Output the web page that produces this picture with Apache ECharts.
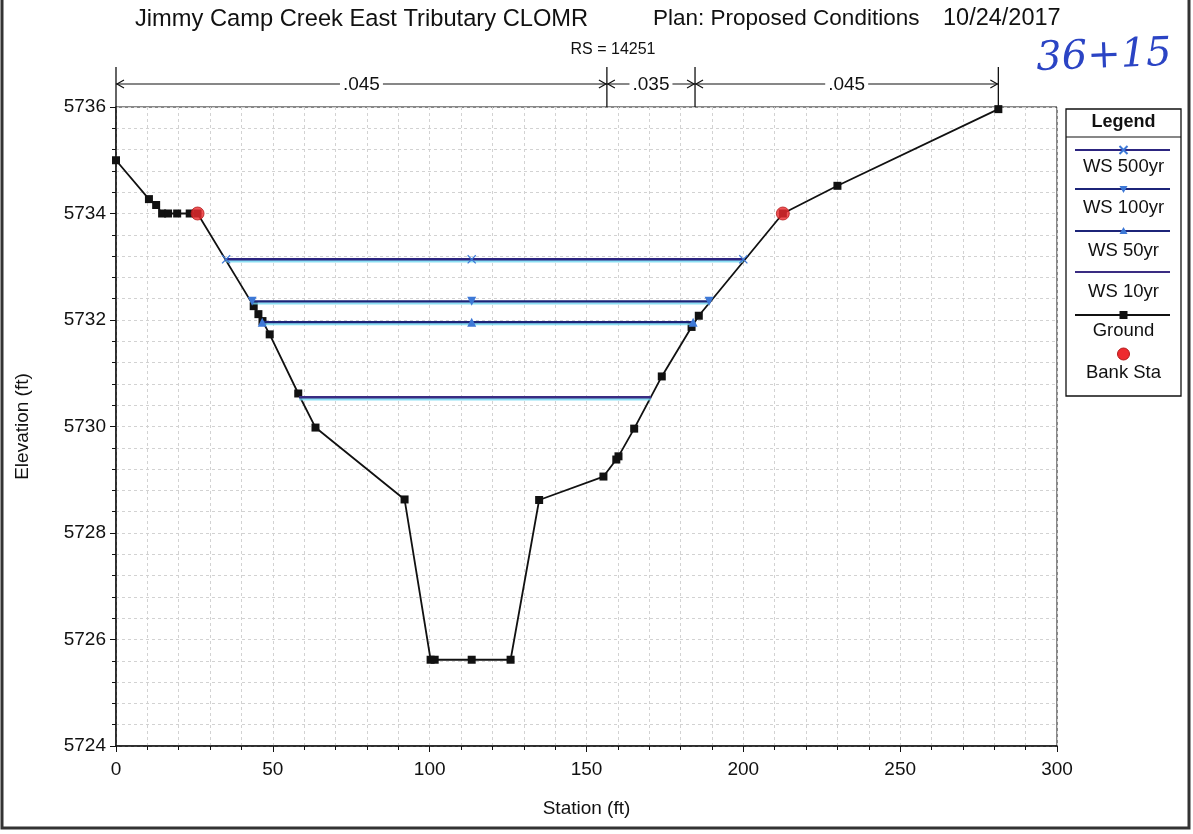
<!DOCTYPE html>
<html><head><meta charset="utf-8">
<script src="https://cdn.jsdelivr.net/npm/echarts@6/dist/echarts.min.js"></script>
<style>html,body{margin:0;padding:0;background:#fff}#c{width:1193px;height:834px}</style>
</head><body><div id="c"></div>
<script>
// ---- data ----
const groundStation = [0, 10.5, 12.8, 14.7, 16.6, 19.5, 23.5, 26.0, 43.9, 45.4, 46.7, 49.0, 58.1, 63.6, 92.0, 100.3, 101.6, 113.4, 125.8, 134.9, 155.4, 159.5, 160.2, 165.2, 174.0, 183.5, 185.8, 212.6, 230.0, 281.3];
const groundElev    = [5735.0, 5734.27, 5734.16, 5734.0, 5734.0, 5734.0, 5734.0, 5734.0, 5732.26, 5732.11, 5731.98, 5731.73, 5730.62, 5729.98, 5728.63, 5725.62, 5725.62, 5725.62, 5725.62, 5728.62, 5729.06, 5729.38, 5729.44, 5729.96, 5730.94, 5731.87, 5732.08, 5734.0, 5734.52, 5735.96];
const bankStation = [26.0, 212.6];
const bankElev    = [5734.0, 5734.0];
const wsNames  = ['WS 500yr', 'WS 100yr', 'WS 50yr', 'WS 10yr'];
const wsElev   = [5733.14, 5732.35, 5731.96, 5730.55];
const wsLeft   = [35.1, 43.4, 46.6, 58.4];
const wsRight  = [200.0, 189.1, 184.0, 170.6];
const wsMarkStation = 113.4;
const nBreaks = [0, 156.5, 184.6, 281.3];
const nValues = ['.045', '.035', '.045'];
const xMin = 0, xMax = 300, xStep = 50;
const yMin = 5724, yMax = 5736, yStep = 2;

// ---- styling ----
const FONT = "'Liberation Sans', Arial, sans-serif";
const wsLine = ['#2c2580', '#1c2478', '#1c2478', '#3a2c82'];
const wsMarkColor = '#3d78d6';
const xPath = 'path://M1,0 L5,4 L9,0 L10,1 L6,5 L10,9 L9,10 L5,6 L1,10 L0,9 L4,5 L0,1 Z';
const wsSymbol = [xPath, 'triangle', 'triangle', 'none'];
const wsRotate = [0, 180, 0, 0];

const chart = echarts.init(document.getElementById('c'), null, {renderer: 'canvas'});

const gridLine = {show: true, lineStyle: {color: '#d2d2d2', type: [3, 3], width: 1}};
const series = [];
series.push({
  name: 'Ground', type: 'line', z: 3,
  data: groundStation.map((s, i) => [s, groundElev[i]]),
  symbol: 'rect', symbolSize: 8, showAllSymbol: true,
  itemStyle: {color: '#111'}, lineStyle: {color: '#111', width: 1.8}
});
wsNames.forEach((n, i) => {
  series.push({
    name: n, type: 'line', z: 4,
    data: [[wsLeft[i], wsElev[i]], [wsMarkStation, wsElev[i]], [wsRight[i], wsElev[i]]],
    symbol: wsSymbol[i], symbolSize: 9, symbolRotate: wsRotate[i], showAllSymbol: true,
    itemStyle: {color: wsMarkColor},
    lineStyle: {color: wsLine[i], width: 2.4, shadowColor: 'rgba(110,215,240,0.8)', shadowOffsetY: 2, shadowBlur: 0}
  });
});
series.push({
  name: 'Bank Sta', type: 'scatter', z: 5,
  data: bankStation.map((s, i) => [s, bankElev[i]]),
  symbol: 'circle', symbolSize: 13,
  itemStyle: {color: '#ee2a2e', borderColor: '#b31a1a', borderWidth: 1}
});

chart.setOption({
  animation: false,
  backgroundColor: '#fff',
  grid: {left: 116, right: 136, top: 107, bottom: 88, show: true, borderColor: '#111', borderWidth: 1},
  xAxis: {
    type: 'value', min: xMin, max: xMax, interval: xStep,
    name: 'Station (ft)', nameLocation: 'middle', nameGap: 53,
    nameTextStyle: {fontFamily: FONT, fontSize: 19, color: '#111'},
    axisLine: {lineStyle: {color: '#111', width: 1.5}},
    axisTick: {show: true, inside: false, length: 6, lineStyle: {color: '#111'}},
    minorTick: {show: true, splitNumber: 5, length: 4, lineStyle: {color: '#111'}},
    axisLabel: {fontFamily: FONT, fontSize: 19, color: '#111', margin: 14},
    splitLine: gridLine,
    minorSplitLine: gridLine
  },
  yAxis: {
    type: 'value', min: yMin, max: yMax, interval: yStep,
    name: 'Elevation (ft)', nameLocation: 'middle', nameGap: 84,
    nameTextStyle: {fontFamily: FONT, fontSize: 19, color: '#111'},
    axisLine: {show: true, lineStyle: {color: '#111', width: 1.5}},
    axisTick: {show: true, inside: false, length: 6, lineStyle: {color: '#111'}},
    minorTick: {show: true, splitNumber: 5, length: 4, lineStyle: {color: '#111'}},
    axisLabel: {fontFamily: FONT, fontSize: 19, color: '#111', margin: 10, formatter: v => String(v)},
    splitLine: gridLine,
    minorSplitLine: gridLine
  },
  series: series
});

// ---- graphics: titles, Manning's n annotation, legend, border ----
const g = [];
const tStyle = (txt, x, y, size, extra) => ({type: 'text', x: x, y: y, z: 10, style: Object.assign({text: txt, fontFamily: FONT, fontSize: size, fill: '#111', textAlign: 'left', textVerticalAlign: 'middle'}, extra || {})});
g.push(tStyle('Jimmy Camp Creek East Tributary CLOMR', 135, 19, 23.7));
g.push(tStyle('Plan: Proposed Conditions', 653, 19, 22.5));
g.push(tStyle('10/24/2017', 943, 19, 23.5));
g.push(tStyle('RS = 14251', 613, 50, 16, {textAlign: 'center'}));
g.push({type: 'text', x: 1104, y: 57, rotation: 0.04, style: {text: '36+15', fontFamily: "'DejaVu Serif', serif", fontStyle: 'italic', fontSize: 40, fill: '#2b44c4', textAlign: 'center', textVerticalAlign: 'middle'}});

// Manning n
const px = v => chart.convertToPixel({xAxisIndex: 0}, v);
const yTopPx = chart.convertToPixel({yAxisIndex: 0}, yMax);
const yN = 84;
nBreaks.forEach(b => {
  const x = px(b);
  g.push({type: 'line', shape: {x1: x, y1: 67, x2: x, y2: yTopPx}, style: {stroke: '#111', lineWidth: 1.3}});
});
for (let i = 0; i < nValues.length; i++) {
  const x1 = px(nBreaks[i]), x2 = px(nBreaks[i + 1]);
  g.push({type: 'line', shape: {x1: x1, y1: yN, x2: x2, y2: yN}, style: {stroke: '#111', lineWidth: 1.2}});
  g.push({type: 'polyline', shape: {points: [[x1 + 8, yN - 4], [x1 + 1, yN], [x1 + 8, yN + 4]]}, style: {stroke: '#111', lineWidth: 1.2, fill: null}});
  g.push({type: 'polyline', shape: {points: [[x2 - 8, yN - 4], [x2 - 1, yN], [x2 - 8, yN + 4]]}, style: {stroke: '#111', lineWidth: 1.2, fill: null}});
  g.push({type: 'text', x: (x1 + x2) / 2, y: yN + 1, z: 10, style: {text: nValues[i], fontFamily: FONT, fontSize: 19, fill: '#111', textAlign: 'center', textVerticalAlign: 'middle', backgroundColor: '#fff', padding: [0, 3]}});
}

// Legend
const LX = 1066, LW = 115, LT = 109, LB = 396, LC = LX + LW / 2;
g.push({type: 'rect', shape: {x: LX, y: LT, width: LW, height: LB - LT}, style: {stroke: '#111', lineWidth: 1.3, fill: '#fff'}});
g.push({type: 'line', shape: {x1: LX, y1: 137, x2: LX + LW, y2: 137}, style: {stroke: '#111', lineWidth: 1.2}});
g.push(tStyle('Legend', LC, 122, 18, {textAlign: 'center', fontWeight: 'bold'}));
const legLineY = [150, 189, 231, 272];
const legTextY = [167, 208, 251, 292];
wsNames.forEach((n, i) => {
  g.push({type: 'line', shape: {x1: LX + 9, y1: legLineY[i], x2: LX + LW - 11, y2: legLineY[i]}, style: {stroke: wsLine[i], lineWidth: 2}});
  g.push(tStyle(n, LC, legTextY[i], 18.5, {textAlign: 'center'}));
});
g.push({type: 'polyline', shape: {points: [[LC - 4, 146], [LC + 4, 154]]}, style: {stroke: wsMarkColor, lineWidth: 2}});
g.push({type: 'polyline', shape: {points: [[LC + 4, 146], [LC - 4, 154]]}, style: {stroke: wsMarkColor, lineWidth: 2}});
g.push({type: 'polygon', shape: {points: [[LC - 4, 186], [LC + 4, 186], [LC, 193]]}, style: {fill: wsMarkColor}});
g.push({type: 'polygon', shape: {points: [[LC - 4, 234], [LC + 4, 234], [LC, 227]]}, style: {fill: wsMarkColor}});
g.push({type: 'line', shape: {x1: LX + 9, y1: 315, x2: LX + LW - 11, y2: 315}, style: {stroke: '#111', lineWidth: 1.8}});
g.push({type: 'rect', shape: {x: LC - 4, y: 311, width: 8, height: 8}, style: {fill: '#111'}});
g.push(tStyle('Ground', LC, 331, 18.5, {textAlign: 'center'}));
g.push({type: 'circle', shape: {cx: LC, cy: 354, r: 6}, style: {fill: '#ee2a2e', stroke: '#b31a1a', lineWidth: 1}});
g.push(tStyle('Bank Sta', LC, 373, 18.5, {textAlign: 'center'}));

// page border (scan frame)
g.push({type: 'rect', shape: {x: 2, y: -4, width: 1187, height: 832}, style: {stroke: '#333', lineWidth: 3, fill: null}});

chart.setOption({graphic: g});
</script>
</body></html>
